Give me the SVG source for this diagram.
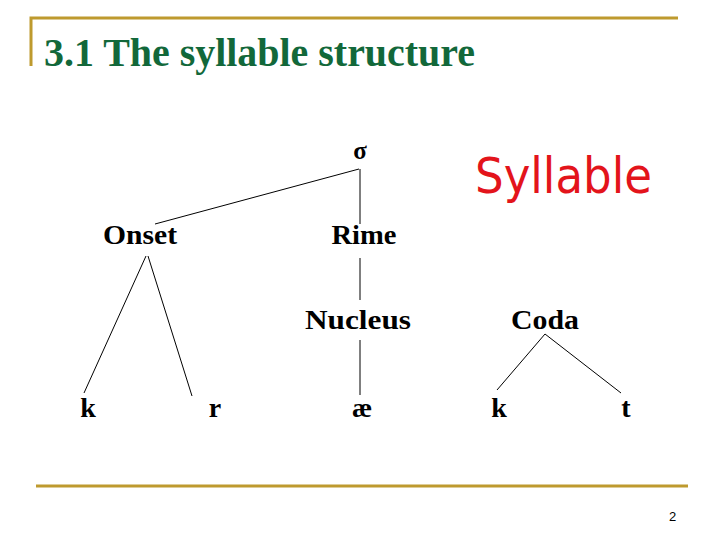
<svg xmlns="http://www.w3.org/2000/svg" width="720" height="540" viewBox="0 0 720 540">
<style>
.frame{stroke:#BE9A2E;stroke-width:3;fill:none}
.title{font-family:"Liberation Serif",serif;font-weight:bold;font-size:40px;fill:#12683A}
.lbl{font-family:"Liberation Serif",serif;font-weight:bold;font-size:28px;fill:#000;text-anchor:middle}
.edge{stroke:#000;stroke-width:1;fill:none}
.syl{font-family:"DejaVu Sans",sans-serif;font-size:50px;fill:#E3141B}
.pg{font-family:"Liberation Sans",sans-serif;font-size:13px;fill:#000}
</style>
<rect width="720" height="540" fill="#fff"/>
<g id="frame">
<path class="frame" d="M31 66 V18 H678"/>
<path class="frame" d="M36 486 H688"/>
</g>
<text class="title" x="44" y="66" textLength="431" lengthAdjust="spacingAndGlyphs">3.1 The syllable structure</text>
<g id="connectors">
<line class="edge" x1="359" y1="169" x2="155" y2="224"/>
<line class="edge" x1="360" y1="169" x2="360" y2="224"/>
<line class="edge" x1="146" y1="256" x2="84" y2="393"/>
<line class="edge" x1="148" y1="256" x2="192" y2="396"/>
<line class="edge" x1="360" y1="258" x2="360" y2="300"/>
<line class="edge" x1="360" y1="340" x2="360" y2="395"/>
<line class="edge" x1="545" y1="334" x2="497" y2="390"/>
<line class="edge" x1="545" y1="334" x2="621" y2="393"/>
</g>
<g id="sigma"><text class="lbl" x="360" y="159" style="font-size:25px">σ</text></g>
<g id="onset"><text class="lbl" x="140" y="244" textLength="74" lengthAdjust="spacingAndGlyphs">Onset</text></g>
<g id="rime"><text class="lbl" x="364" y="244" textLength="65" lengthAdjust="spacingAndGlyphs">Rime</text></g>
<g id="nucleus"><text class="lbl" x="358" y="329" textLength="106" lengthAdjust="spacingAndGlyphs">Nucleus</text></g>
<g id="coda"><text class="lbl" x="545" y="329" textLength="68" lengthAdjust="spacingAndGlyphs">Coda</text></g>
<g id="k1"><text class="lbl" x="88" y="417">k</text></g>
<g id="r"><text class="lbl" x="215" y="417">r</text></g>
<g id="ae"><text class="lbl" x="362" y="417">æ</text></g>
<g id="k2"><text class="lbl" x="499" y="417">k</text></g>
<g id="t"><text class="lbl" x="626" y="417">t</text></g>
<text class="syl" x="475" y="193" textLength="177" lengthAdjust="spacingAndGlyphs">Syllable</text>
<text class="pg" x="669" y="521">2</text>
</svg>
